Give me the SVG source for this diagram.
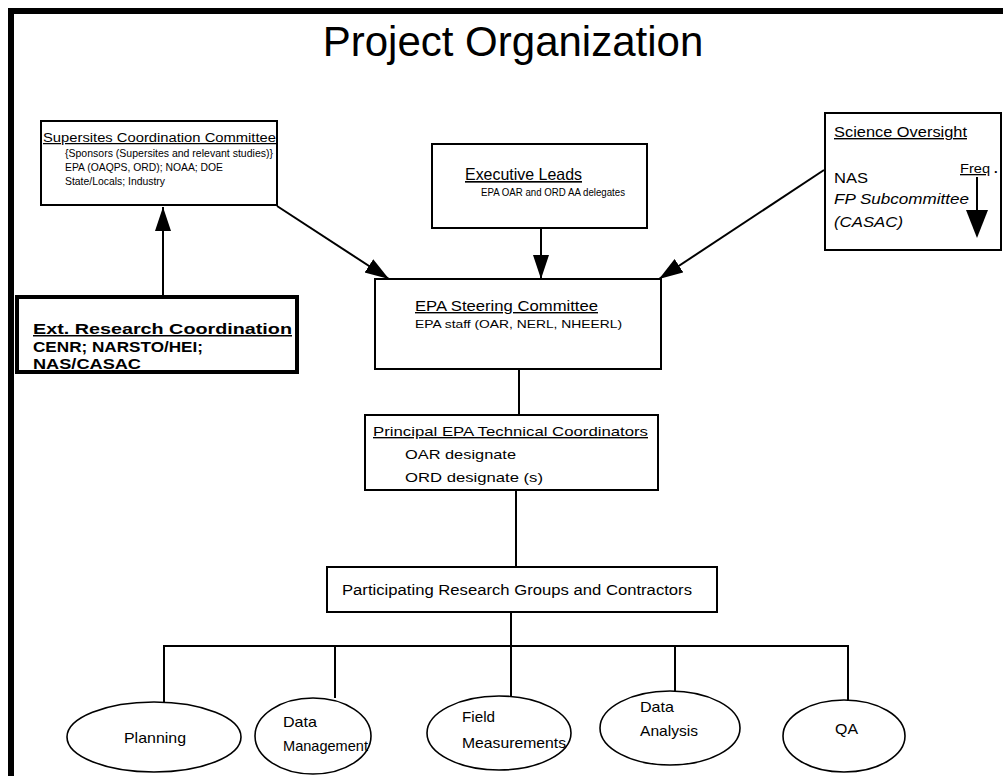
<svg xmlns="http://www.w3.org/2000/svg" width="1003" height="776" viewBox="0 0 1003 776">
  <style>
    text { font-family: "Liberation Sans", Arial, sans-serif; fill: #000; }
    .box { fill: #fff; stroke: #000; stroke-width: 2; }
    .heavy { fill: #fff; stroke: #000; stroke-width: 4; }
    .oval { fill: #fff; stroke: #000; stroke-width: 1.6; }
    .wire { fill: none; stroke: #000; stroke-width: 2; }
    .u { text-decoration: underline; }
    .b { font-weight: bold; }
    .i { font-style: italic; }
    .mid { text-anchor: middle; }
  </style>
  <defs>
    <marker id="head" markerUnits="userSpaceOnUse" markerWidth="26" markerHeight="18" refX="24" refY="8" orient="auto">
      <path d="M0,0 L24,8 L0,16 z" fill="#000"/>
    </marker>
  </defs>

  <rect width="1003" height="776" fill="#fff"/>
  <!-- page frame: top and left rules only -->
  <path d="M8,11 H1003 M11,8 V776" stroke="#000" stroke-width="6" fill="none"/>

  <text x="513" y="56" font-size="42" class="mid">Project Organization</text>

  <g id="connectors">
    <line class="wire" x1="163" y1="297" x2="163" y2="207" marker-end="url(#head)"/>
    <line class="wire" x1="277" y1="206" x2="389" y2="279" marker-end="url(#head)"/>
    <line class="wire" x1="541" y1="228" x2="541" y2="279" marker-end="url(#head)"/>
    <line class="wire" x1="824" y1="170" x2="659" y2="279" marker-end="url(#head)"/>
    <line class="wire" x1="519" y1="369" x2="519" y2="415"/>
    <line class="wire" x1="516" y1="490" x2="516" y2="567"/>
    <line class="wire" x1="511" y1="612" x2="511" y2="697"/>
    <line class="wire" x1="163" y1="646" x2="849" y2="646"/>
    <line class="wire" x1="164" y1="646" x2="164" y2="702"/>
    <line class="wire" x1="335" y1="646" x2="335" y2="698"/>
    <line class="wire" x1="675" y1="646" x2="675" y2="692"/>
    <line class="wire" x1="848" y1="646" x2="848" y2="701"/>
  </g>

  <g id="supersites">
    <rect class="box" x="41" y="121" width="236" height="84"/>
    <text x="43" y="142" font-size="12.5" class="u" textLength="233" lengthAdjust="spacingAndGlyphs">Supersites Coordination Committee</text>
    <text x="65" y="157" font-size="11" textLength="208" lengthAdjust="spacingAndGlyphs">{Sponsors (Supersites and relevant studies)}</text>
    <text x="65" y="171" font-size="11" textLength="158" lengthAdjust="spacingAndGlyphs">EPA (OAQPS, ORD); NOAA; DOE</text>
    <text x="65" y="185" font-size="11" textLength="100" lengthAdjust="spacingAndGlyphs">State/Locals; Industry</text>
  </g>

  <g id="executive">
    <rect class="box" x="432" y="144" width="215" height="84"/>
    <text x="465" y="180" font-size="16.5" class="u" textLength="117" lengthAdjust="spacingAndGlyphs">Executive Leads</text>
    <text x="481" y="196" font-size="10.5" textLength="144" lengthAdjust="spacingAndGlyphs">EPA OAR and ORD AA delegates</text>
  </g>

  <g id="science">
    <rect class="box" x="825" y="113" width="176" height="137"/>
    <text x="834" y="137" font-size="14" class="u" textLength="133" lengthAdjust="spacingAndGlyphs">Science Oversight</text>
    <text x="834" y="183" font-size="14" textLength="34" lengthAdjust="spacingAndGlyphs">NAS</text>
    <text x="834" y="204" font-size="14" class="i" textLength="135" lengthAdjust="spacingAndGlyphs">FP Subcommittee</text>
    <text x="834" y="227" font-size="14" class="i" textLength="69" lengthAdjust="spacingAndGlyphs">(CASAC)</text>
    <text x="960" y="173" font-size="13" class="u" textLength="30" lengthAdjust="spacingAndGlyphs">Freq</text>
    <text x="994" y="173" font-size="13" class="b">.</text>
    <line class="wire" x1="977" y1="177" x2="977" y2="212"/>
    <path d="M966,210 L988,210 L977,238 z" fill="#000"/>
  </g>

  <g id="external">
    <rect class="heavy" x="17" y="297" width="280" height="75"/>
    <text x="33" y="334" font-size="15" class="b u" textLength="259" lengthAdjust="spacingAndGlyphs">Ext. Research Coordination</text>
    <text x="33" y="352" font-size="15" class="b" textLength="170" lengthAdjust="spacingAndGlyphs">CENR; NARSTO/HEI;</text>
    <text x="33" y="369" font-size="15" class="b" textLength="108" lengthAdjust="spacingAndGlyphs">NAS/CASAC</text>
  </g>

  <g id="steering">
    <rect class="box" x="375" y="279" width="286" height="90"/>
    <text x="415" y="311" font-size="14" class="u" textLength="183" lengthAdjust="spacingAndGlyphs">EPA Steering Committee</text>
    <text x="415" y="328" font-size="11.5" textLength="207" lengthAdjust="spacingAndGlyphs">EPA staff (OAR, NERL, NHEERL)</text>
  </g>

  <g id="coordinators">
    <rect class="box" x="365" y="415" width="293" height="75"/>
    <text x="373" y="436" font-size="13.5" class="u" textLength="275" lengthAdjust="spacingAndGlyphs">Principal EPA Technical Coordinators</text>
    <text x="405" y="459" font-size="13.5" textLength="111" lengthAdjust="spacingAndGlyphs">OAR designate</text>
    <text x="405" y="482" font-size="13.5" textLength="138" lengthAdjust="spacingAndGlyphs">ORD designate (s)</text>
  </g>

  <g id="participants">
    <rect class="box" x="327" y="567" width="390" height="45"/>
    <text x="342" y="595" font-size="14" textLength="350" lengthAdjust="spacingAndGlyphs">Participating Research Groups and Contractors</text>
  </g>

  <g id="planning">
    <ellipse class="oval" cx="154" cy="737" rx="87" ry="35"/>
    <text x="124" y="743" font-size="14.5" textLength="62" lengthAdjust="spacingAndGlyphs">Planning</text>
  </g>
  <g id="data-management">
    <ellipse class="oval" cx="313" cy="736" rx="58" ry="38"/>
    <text x="283" y="727" font-size="14.5" textLength="34" lengthAdjust="spacingAndGlyphs">Data</text>
    <text x="283" y="751" font-size="14.5" textLength="85" lengthAdjust="spacingAndGlyphs">Management</text>
  </g>
  <g id="field-measurements">
    <ellipse class="oval" cx="499" cy="733" rx="72" ry="37"/>
    <text x="462" y="722" font-size="14.5" textLength="33" lengthAdjust="spacingAndGlyphs">Field</text>
    <text x="462" y="748" font-size="14.5" textLength="104" lengthAdjust="spacingAndGlyphs">Measurements</text>
  </g>
  <g id="data-analysis">
    <ellipse class="oval" cx="670" cy="728" rx="70" ry="37"/>
    <text x="640" y="712" font-size="14.5" textLength="34" lengthAdjust="spacingAndGlyphs">Data</text>
    <text x="640" y="736" font-size="14.5" textLength="58" lengthAdjust="spacingAndGlyphs">Analysis</text>
  </g>
  <g id="qa">
    <ellipse class="oval" cx="844" cy="736" rx="61" ry="36"/>
    <text x="835" y="734" font-size="14.5" textLength="23" lengthAdjust="spacingAndGlyphs">QA</text>
  </g>
</svg>
